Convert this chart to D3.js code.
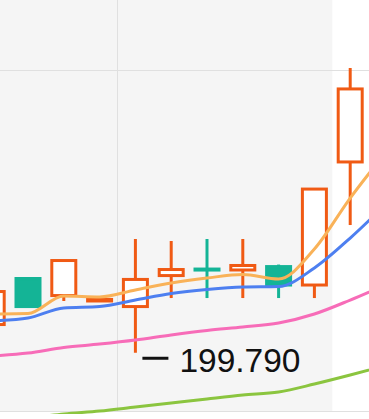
<!DOCTYPE html>
<html>
<head>
<meta charset="utf-8">
<script src="https://cdn.jsdelivr.net/npm/d3@7"></script>
<style>
  html, body { margin: 0; padding: 0; background: #ffffff; }
  svg { display: block; }
</style>
</head>
<body>
<div id="chart"></div>
<script>
// ---- data ----
const categories = ["D1","D2","D3","D4","D5","D6","D7","D8","D9","D10","D11","D12"];
const opens  = [201.61, 204.58, 203.48, 203.13, 202.77, 204.77, 205.19, 205.13, 205.35, 204.16, 212.10, null];
const closes = [203.74, 202.77, 205.74, 203.23, 204.52, 205.16, 205.13, 205.42, 204.16, 210.35, 216.81, null];
const highs  = [203.74, 204.58, 205.74, 203.23, 207.13, 207.00, 207.13, 207.13, 205.48, 210.35, 218.16, null];
const lows   = [201.61, 202.77, 203.13, 203.13, 199.79, 203.32, 203.32, 203.32, 203.32, 203.32, 208.03, null];
const ma5  = [202.29, 202.32, 203.45, 203.39, 203.84, 204.29, 204.61, 204.84, 204.55, 206.48, 209.77, 212.74];
const ma10 = [201.84, 202.03, 202.68, 202.77, 203.19, 203.61, 203.87, 204.03, 204.06, 205.26, 207.19, 209.39];
const ma20 = [199.58, 199.77, 200.13, 200.35, 200.61, 200.94, 201.23, 201.45, 201.71, 202.29, 203.19, 204.19];
const ma30 = [195.35, 195.58, 195.84, 196.03, 196.29, 196.55, 196.81, 197.06, 197.26, 197.77, 198.35, 198.97];
const yTicks = [196, 218];
const minLabel = "199.790";

// ---- setup ----
const W = 369, H = 419;
const step = 35.8, start = -25.7;
const x = d3.scaleBand().domain(categories).range([start, start + step * categories.length]).padding(0);
const y = d3.scaleLinear().domain([196, 218]).range([411.5, 70.5]);
const cx = c => x(c) + x.bandwidth() / 2;

const UP = "#f05a14", DOWN = "#14b496";

const svg = d3.select("#chart").append("svg").attr("width", W).attr("height", H);

// clip for series (grid area plus a small margin)
svg.append("defs").append("clipPath").attr("id", "gridClip")
  .append("rect").attr("x", -50).attr("y", -50)
  .attr("width", W + 100).attr("height", y(yTicks[0]) + 50 + 2.5);

// background split area
const grayEnd = x(categories[10]);
svg.append("rect").attr("x", 0).attr("y", 0)
  .attr("width", grayEnd).attr("height", y(yTicks[0]))
  .attr("fill", "#f5f5f5");

// horizontal grid lines
svg.selectAll("line.hgrid").data(yTicks).enter().append("line")
  .attr("class", "hgrid")
  .attr("x1", 0).attr("x2", W)
  .attr("y1", d => y(d)).attr("y2", d => y(d))
  .attr("stroke", "#e0e0e0").attr("stroke-width", 1);

// vertical split line
const vx = Math.round(x(categories[4])) + 0.5;
svg.append("line")
  .attr("x1", vx).attr("x2", vx).attr("y1", 0).attr("y2", y(yTicks[0]))
  .attr("stroke", "#e0e0e0").attr("stroke-width", 1);

// candles
const candleData = categories.map((c, i) => ({
  c, o: opens[i], cl: closes[i], h: highs[i], l: lows[i]
})).filter(d => d.o !== null);

const boxW = 24;
const g = svg.append("g");
g.selectAll("line.wick").data(candleData).enter().append("line")
  .attr("class", "wick")
  .attr("x1", d => cx(d.c)).attr("x2", d => cx(d.c))
  .attr("y1", d => y(d.h)).attr("y2", d => y(d.l))
  .attr("stroke", d => d.cl >= d.o ? UP : DOWN)
  .attr("stroke-width", 3);

g.selectAll("rect.body").data(candleData).enter().append("rect")
  .attr("class", "body")
  .attr("x", d => cx(d.c) - boxW / 2)
  .attr("width", boxW)
  .attr("y", d => y(Math.max(d.o, d.cl)))
  .attr("height", d => Math.max(1, Math.abs(y(d.o) - y(d.cl))))
  .attr("fill", d => d.cl >= d.o ? "#ffffff" : DOWN)
  .attr("stroke", d => d.cl >= d.o ? UP : DOWN)
  .attr("stroke-width", 3);

// moving average lines
const series = [
  { vals: ma30, color: "#8bc53f" },
  { vals: ma20, color: "#f76cb8" },
  { vals: ma10, color: "#4d7ff0" },
  { vals: ma5,  color: "#f9b258" }
];
const line = d3.line()
  .x((d, i) => cx(categories[i]))
  .y(d => y(d))
  .curve(d3.curveMonotoneX);
svg.append("g").attr("clip-path", "url(#gridClip)")
  .selectAll("path.ma").data(series).enter().append("path")
  .attr("class", "ma")
  .attr("d", d => line(d.vals))
  .attr("fill", "none")
  .attr("stroke", d => d.color)
  .attr("stroke-width", 3)
  .attr("stroke-linejoin", "round");

// min label
const minIdx = lows.indexOf(d3.min(lows.filter(v => v !== null)));
const lx = cx(categories[minIdx]);
const ly = y(lows[minIdx]);
svg.append("line")
  .attr("x1", lx + 7).attr("x2", lx + 33)
  .attr("y1", ly + 5.5).attr("y2", ly + 5.5)
  .attr("stroke", "#111111").attr("stroke-width", 3);
svg.append("text")
  .attr("x", lx + 44).attr("y", ly + 19.5)
  .attr("font-family", "'Liberation Sans', Arial, Helvetica, sans-serif")
  .attr("font-size", 33.5)
  .attr("fill", "#111111")
  .text(minLabel);
</script>
</body>
</html>
